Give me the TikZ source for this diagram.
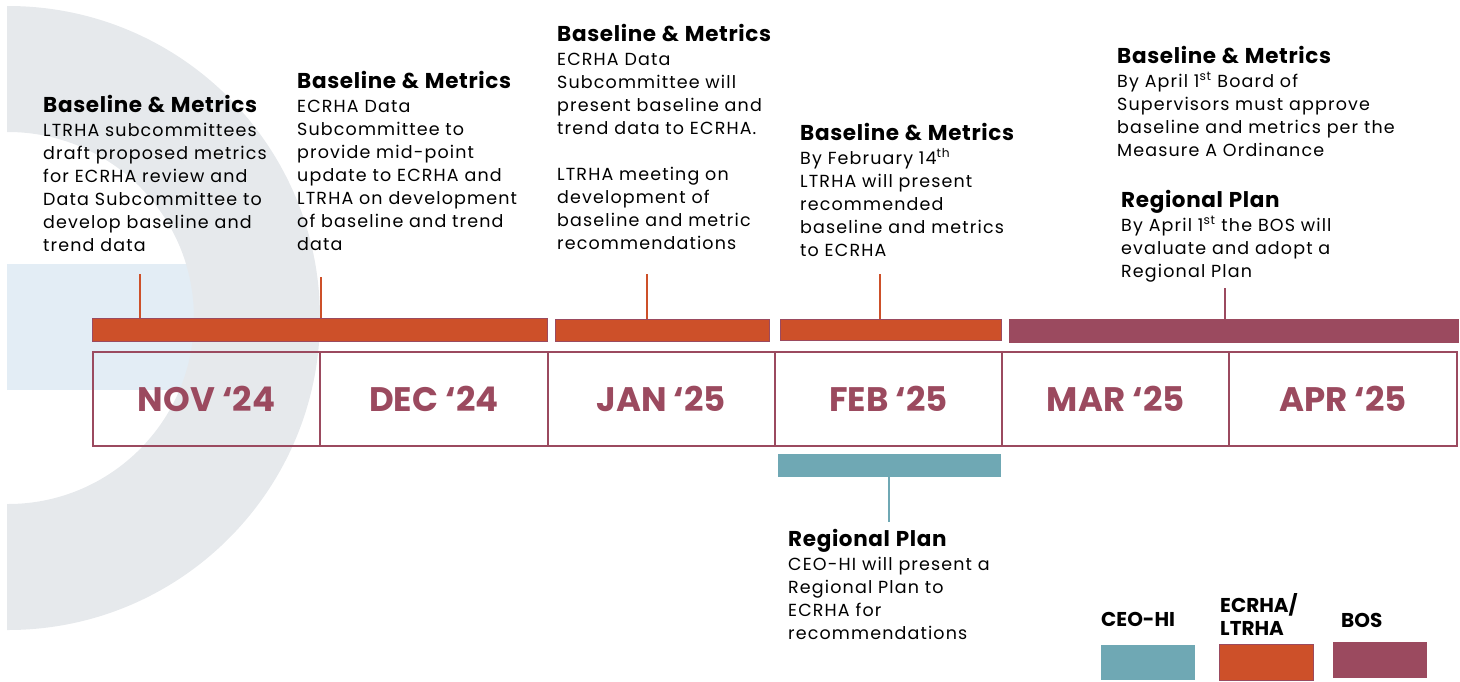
\documentclass[tikz,border=0pt]{standalone}
\usepackage{fontspec}
\setmainfont{Poppins}
\newfontfamily\notefont{Poppins}[LetterSpace=6.5]
\newfontfamily\headfont{Poppins}[LetterSpace=3]
\usetikzlibrary{positioning}

\definecolor{ecrha}{HTML}{CD5029}
\definecolor{bos}{HTML}{9B4A5F}
\definecolor{ceohi}{HTML}{6FA8B4}
\definecolor{ringgray}{HTML}{E6E9EC}
\definecolor{paleblue}{HTML}{E3EDF5}

\tikzset{
  note/.style={anchor=base west, inner sep=0pt, text width=300pt, align=left,
    font=\notefont\fontsize{17.5}{23}\selectfont},
  month/.style={draw=bos, line width=2pt, minimum width=227.3pt, minimum height=94pt,
    inner sep=0pt, text=bos, font=\fontsize{34}{40}\selectfont\bfseries},
  bar/.style={anchor=north west, inner sep=0pt},
  tick/.style={line width=1.3pt},
  key/.style={anchor=base west, inner sep=0pt, align=left,
    font=\fontsize{20}{23}\selectfont\bfseries},
}
\newcommand{\hd}[1]{{\headfont\fontsize{21.5}{23}\selectfont\bfseries #1}\\[1pt]}

\begin{document}
\begin{tikzpicture}[x=1pt,y=-1pt]
\useasboundingbox (0,0) rectangle (1460,681);

% background
\fill[paleblue] (7,264) rectangle (200,390);
\begin{scope}
\clip (7,0) rectangle (1460,681);
\fill[ringgray, even odd rule] (8,318) circle (312) (8,318) circle (186);
\end{scope}

% months
\foreach \m [count=\i from 0] in {NOV ‘24, DEC ‘24, JAN ‘25, FEB ‘25, MAR ‘25, APR ‘25}
  \node[month] (m\i) at ({206.6+\i*227.3},399) {\m};

% bars
\node[bar, fill=ecrha, draw=bos, line width=0.8pt, minimum width=455pt, minimum height=23pt] (b1) at (92,318) {};
\node[bar, fill=ecrha, draw=bos, line width=0.8pt, minimum width=214pt, minimum height=22pt] (b2) at (555,319) {};
\node[bar, fill=ecrha, draw=bos, line width=0.8pt, minimum width=221pt, minimum height=21pt] (b3) at (780,319) {};
\node[bar, fill=bos, minimum width=450pt, minimum height=24pt] (b4) at (1009,319) {};
\node[bar, fill=ceohi, minimum width=223pt, minimum height=23pt] (b5) at (778,454) {};

% notes
\node[note] (n1) at (43,112) {\hd{Baseline \& Metrics}LTRHA subcommittees\\draft proposed metrics\\for ECRHA review and\\Data Subcommittee to\\develop baseline and\\trend data};
\node[note] (n2) at (297,88) {\hd{Baseline \& Metrics}ECRHA Data\\Subcommittee to\\provide mid-point\\update to ECRHA and\\LTRHA on development\\of baseline and trend\\data};
\node[note] (n3) at (557,41) {\hd{Baseline \& Metrics}ECRHA Data\\Subcommittee will\\present baseline and\\trend data to ECRHA.\\[23pt]LTRHA meeting on\\development of\\baseline and metric\\recommendations};
\node[note] (n4) at (800,140) {\hd{Baseline \& Metrics}By February 14\textsuperscript{th}\\LTRHA will present\\recommended\\baseline and metrics\\to ECRHA};
\node[note] (n5) at (1117,63) {\hd{Baseline \& Metrics}By April 1\textsuperscript{st} Board of\\Supervisors must approve\\baseline and metrics per the\\Measure A Ordinance};
\node[note] (n6) at (1121,207) {\hd{Regional Plan}By April 1\textsuperscript{st} the BOS will\\evaluate and adopt a\\Regional Plan};
\node[note] (n7) at (788,546) {\hd{Regional Plan}CEO-HI will present a\\Regional Plan to\\ECRHA for\\recommendations};

% connectors
\coordinate (t1) at (140,274);
\coordinate (t2) at (321,277);
\coordinate (t3) at (647,274);
\coordinate (t4) at (880,274);
\coordinate (t5) at (1225,288);
\coordinate (t6) at (889,522);
\draw[ecrha, tick] (t1) -- (t1 |- b1.north);
\draw[ecrha, tick] (t2) -- (t2 |- b1.north);
\draw[ecrha, tick] (t3) -- (t3 |- b2.north);
\draw[ecrha, tick] (t4) -- (t4 |- b3.north);
\draw[bos, tick] (t5) -- (t5 |- b4.north);
\draw[ceohi, tick] (t6 |- b5.south) -- (t6);

% legend
\node[key] (l1) at (1101,626) {CEO-HI};
\node[key] (l2) at (1220,635) {ECRHA/\\LTRHA};
\node[key] (l3) at (1341,627) {BOS};
\node[bar, fill=ceohi, minimum width=94pt, minimum height=35pt] (k1) at (1101,645) {};
\node[bar, fill=ecrha, draw=bos, line width=1pt, minimum width=94pt, minimum height=36pt] (k2) at (1219,644) {};
\node[bar, fill=bos, minimum width=94pt, minimum height=36pt] (k3) at (1333,642) {};
\end{tikzpicture}
\end{document}
